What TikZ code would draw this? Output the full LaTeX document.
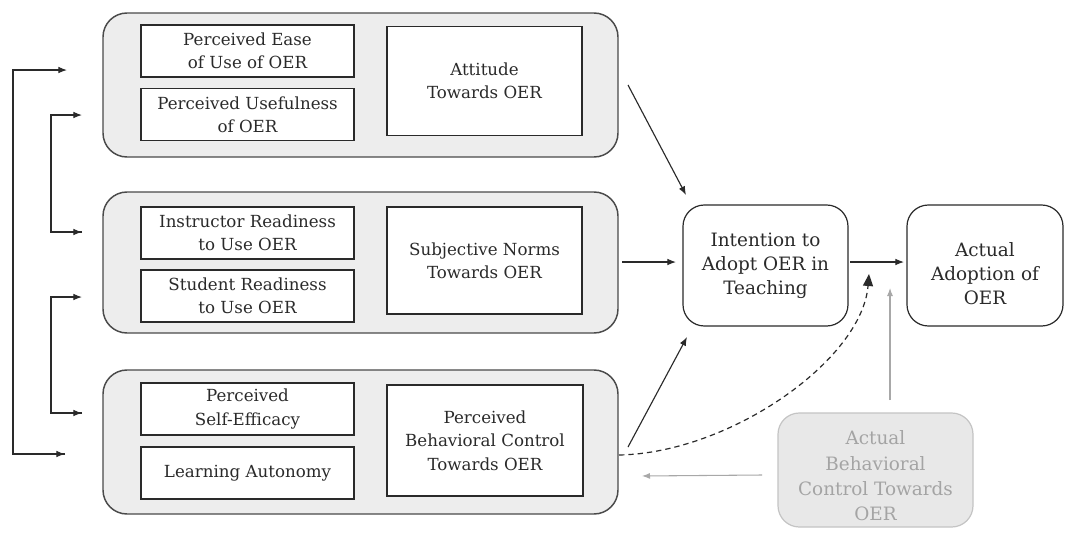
\documentclass[tikz,border=0pt]{standalone}
\usepackage{fontspec}
\setmainfont{DejaVu Serif}
\usetikzlibrary{arrows.meta,calc}
\definecolor{grpfill}{HTML}{EDEDED}
\definecolor{grpdraw}{HTML}{4A4A4A}
\definecolor{txt}{HTML}{2A2A2A}
\definecolor{gfill}{HTML}{E8E8E8}
\definecolor{gdraw}{HTML}{C4C4C4}
\definecolor{gtxt}{HTML}{A4A4A4}
\definecolor{garr}{HTML}{A8A8A8}
\begin{document}
\begin{tikzpicture}[x=0.75pt,y=-0.75pt,
  lbl/.style={font=\fontsize{12.5}{17.5}\selectfont, text=txt, align=center},
  blbl/.style={font=\fontsize{13.8}{18}\selectfont, text=txt, align=center},
  grp/.style={draw=grpdraw, line width=1.1pt, fill=grpfill, rounded corners=18pt, inner sep=0pt, minimum width=386.25pt},
  inbox/.style={lbl, draw=txt, line width=0.9pt, fill=white, inner sep=0pt},
  sbox/.style={inbox, minimum width=159.75pt, minimum height=39pt},
  bbox/.style={inbox, minimum width=146.25pt, minimum height=82pt},
  rbox/.style={blbl, draw=txt, line width=0.9pt, fill=white, rounded corners=16pt, inner sep=0pt, minimum height=90.75pt},
  gbox/.style={draw=gdraw, line width=0.9pt, fill=gfill, rounded corners=16pt, inner sep=0pt},
  arr/.style={draw=txt, line width=0.85pt, -{Latex[length=6.5pt,width=5pt]}},
  garrow/.style={draw=garr, line width=0.8pt, -{Latex[length=6pt,width=4.5pt]}},
  darr/.style={draw=txt, line width=0.9pt, dash pattern=on 4pt off 3pt, -{Triangle[length=9pt,width=7.5pt]}}
]
\fill[white] (0,0) rectangle (1065,533);
\useasboundingbox (0,0) rectangle (1065,533);

% groups
\node[grp, minimum height=108pt] (g1) at (360.5,85) {};
\node[grp, minimum height=105.75pt] (g2) at (360.5,262.5) {};
\node[grp, minimum height=108pt] (g3) at (360.5,442) {};

% group 1
\node[sbox] (peou) at (247.5,51) {Perceived Ease\\of Use of OER};
\node[sbox] (pu) at (247.5,114.5) {Perceived Usefulness\\of OER};
\node[bbox] (att) at (484.5,81) {Attitude\\Towards OER};

% group 2
\node[sbox] (ir) at (247.5,233) {Instructor Readiness\\to Use OER};
\node[sbox] (sr) at (247.5,296) {Student Readiness\\to Use OER};
\node[bbox, minimum height=80.25pt] (sn) at (484.5,260.5) {Subjective Norms\\Towards OER};

% group 3
\node[sbox] (pse) at (247.5,409) {Perceived\\Self-Efficacy};
\node[sbox] (la) at (247.5,473) {Learning Autonomy};
\node[bbox, minimum width=147pt, minimum height=83.25pt] (pbc) at (485,440.5) {Perceived\\Behavioral Control\\Towards OER};

% right side
\node[rbox, minimum width=123.75pt] (int) at (765.5,265.5) {Intention to\\Adopt OER in\\Teaching};
\node[rbox, minimum width=117pt] (act) at (985,265.5) {};
\node[blbl] (actlbl) at (985,274) {Actual\\Adoption of\\OER};
\node[gbox, minimum width=146.25pt, minimum height=85.5pt] (abc) at (875.5,470) {};
\node[blbl, text=gtxt, font=\fontsize{13.8}{19}\selectfont] (abclbl) at (875.5,476) {Actual\\Behavioral\\Control Towards\\OER};

% coordinates for connectors
\coordinate (s1) at (628,85);   \coordinate (e1) at (686,195);
\coordinate (s2) at (622,262);  \coordinate (e2) at (676,262);
\coordinate (s3) at (628,447);  \coordinate (e3) at (687,337);
\coordinate (s4) at (850,262);  \coordinate (e4) at (904,262);
\coordinate (ds) at (619,455);  \coordinate (dtip) at (869,274);
\coordinate (gs) at (890,400);  \coordinate (gup) at (890,288);
\coordinate (gl) at (762,475);  \coordinate (gleft) at (642,476);

\draw[arr] (s1) -- (e1);
\draw[arr] (s2) -- (e2);
\draw[arr] (s3) -- (e3);
\draw[arr] (s4) -- (e4);

\draw[darr] (ds) .. controls (730,453) and (862,360) .. (dtip);
\draw[garrow] (gs) -- (gup);
\draw[garrow] (gl) -- (gleft);

% left feedback connectors
\coordinate (L1a) at (13,70);  \coordinate (L1b) at (13,454);
\coordinate (T1a) at (67,70);  \coordinate (T1b) at (65,454);
\coordinate (L2a) at (51,115); \coordinate (L2b) at (51,232);
\coordinate (T2a) at (82,115); \coordinate (T2b) at (82,232);
\coordinate (L3a) at (51,297); \coordinate (L3b) at (51,413);
\coordinate (T3a) at (82,297); \coordinate (T3b) at (82,413);

\draw[arr] (T1b) -- (L1b) -- (L1a) -- (T1a);
\draw[arr] (L1b) -- (T1b);
\draw[arr] (T2b) -- (L2b) -- (L2a) -- (T2a);
\draw[arr] (L2b) -- (T2b);
\draw[arr] (T3b) -- (L3b) -- (L3a) -- (T3a);
\draw[arr] (L3b) -- (T3b);
\end{tikzpicture}
\end{document}
